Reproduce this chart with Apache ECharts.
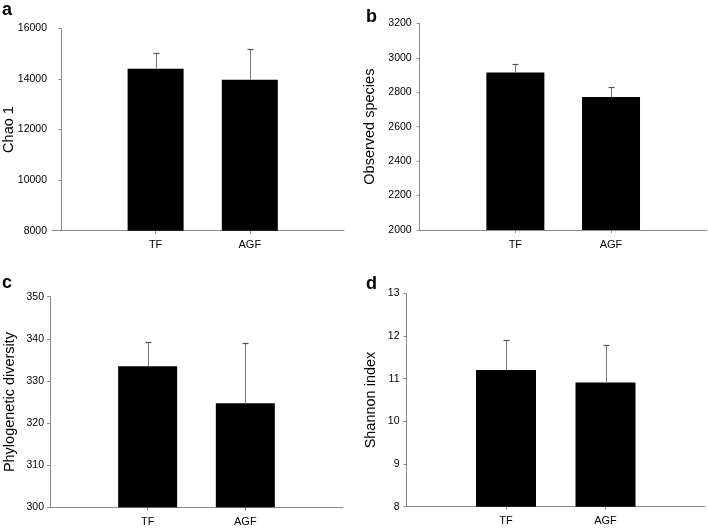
<!DOCTYPE html>
<html>
<head>
<meta charset="utf-8">
<script src="https://cdn.jsdelivr.net/npm/echarts@6/dist/echarts.min.js"></script>
<style>
html,body{margin:0;padding:0;background:#fff;}
#c{width:708px;height:528px;}
</style>
</head>
<body>
<div id="c"></div>
<script>
// ---- data ----
const categories = ['TF', 'AGF'];
const catPos = [1, 2];
const chaoMean = [14400, 13970];
const chaoUpper = [15030, 15180];
const obsMean = [2915, 2772];
const obsUpper = [2965, 2832];
const pdMean = [333.5, 324.7];
const pdUpper = [339.2, 339.0];
const shMean = [11.2, 10.91];
const shUpper = [11.9, 11.8];
const panelLetters = ['a', 'b', 'c', 'd'];
const yTitles = ['Chao 1', 'Observed species', 'Phylogenetic diversity', 'Shannon index'];
const yMin = [8000, 2000, 300, 8];
const yMax = [16000, 3200, 350, 13];
const yStep = [2000, 200, 10, 1];

// ---- layout ----
const grids = [
  {left: 52, top: 28.3, width: 292, height: 202.4},
  {left: 419.7, top: 23.3, width: 287, height: 206.7},
  {left: 50, top: 296.7, width: 293, height: 210.6},
  {left: 406.5, top: 293.3, width: 298.5, height: 213.4}
];
const xMin = [-0.1, 0, 0, 0];
const xMax = [3, 3, 3, 3];
const barW = [56, 58, 59, 60];
const nameGaps = [36, 42, 33, 28];
const labelMargins = [5, 8, 6, 7];
const letterPos = [[2, 1], [366, 8], [2, 274], [366, 275]];

const means = [chaoMean, obsMean, pdMean, shMean];
const uppers = [chaoUpper, obsUpper, pdUpper, shUpper];

const axisGray = '#8a8a8a';
const font = '"Liberation Sans", Arial, sans-serif';

const option = {
  animation: false,
  backgroundColor: '#fff',
  title: panelLetters.map((t, i) => ({
    text: t, left: letterPos[i][0], top: letterPos[i][1], padding: 0,
    textStyle: {fontFamily: font, fontWeight: 'bold', fontSize: 18, color: '#000'}
  })),
  grid: grids.map(g => Object.assign({containLabel: false, outerBoundsMode: 'none'}, g)),
  xAxis: grids.map((g, i) => ({
    type: 'value', gridIndex: i, min: xMin[i], max: xMax[i],
    splitLine: {show: false},
    axisLine: {show: true, onZero: false, lineStyle: {color: axisGray, width: 1}},
    axisTick: {show: true, customValues: catPos, length: 3, lineStyle: {color: axisGray}},
    axisLabel: {
      show: true, customValues: catPos, margin: 9,
      fontFamily: font, fontSize: 11, color: '#000',
      formatter: v => categories[Math.round(v) - 1] || ''
    }
  })),
  yAxis: grids.map((g, i) => ({
    type: 'value', gridIndex: i, min: yMin[i], max: yMax[i], interval: yStep[i],
    name: yTitles[i], nameLocation: 'middle', nameGap: nameGaps[i], nameRotate: 90,
    nameMoveOverlap: false,
    nameTextStyle: {fontFamily: font, fontSize: 14.5, color: '#000'},
    splitLine: {show: false},
    axisLine: {show: true, lineStyle: {color: axisGray, width: 1}},
    axisTick: {show: true, inside: false, length: 3, lineStyle: {color: axisGray}},
    axisLabel: {fontFamily: font, fontSize: 10.5, color: '#000', margin: labelMargins[i],
      formatter: v => String(v)}
  })),
  series: []
};

means.forEach((m, i) => {
  option.series.push({
    type: 'bar', xAxisIndex: i, yAxisIndex: i,
    data: catPos.map((x, k) => [x, m[k]]),
    barWidth: barW[i],
    itemStyle: {color: '#000'},
    clip: true,
    z: 2
  });
  option.series.push({
    type: 'custom', xAxisIndex: i, yAxisIndex: i,
    data: catPos.map((x, k) => [x, m[k], uppers[i][k]]),
    z: 3,
    renderItem: function (params, api) {
      const x = api.value(0);
      const p0 = api.coord([x, api.value(1)]);
      const p1 = api.coord([x, api.value(2)]);
      const cx = Math.round(p0[0]) + 0.5;
      const ty = Math.round(p1[1]) + 0.5;
      return {
        type: 'group',
        children: [
          {type: 'line', shape: {x1: cx, y1: p0[1], x2: cx, y2: ty},
           style: {stroke: '#777', lineWidth: 1}},
          {type: 'line', shape: {x1: cx - 3, y1: ty, x2: cx + 3, y2: ty},
           style: {stroke: '#555', lineWidth: 1.2}}
        ]
      };
    }
  });
});

const chart = echarts.init(document.getElementById('c'), null, {renderer: 'canvas'});
chart.setOption(option);
</script>
</body>
</html>
